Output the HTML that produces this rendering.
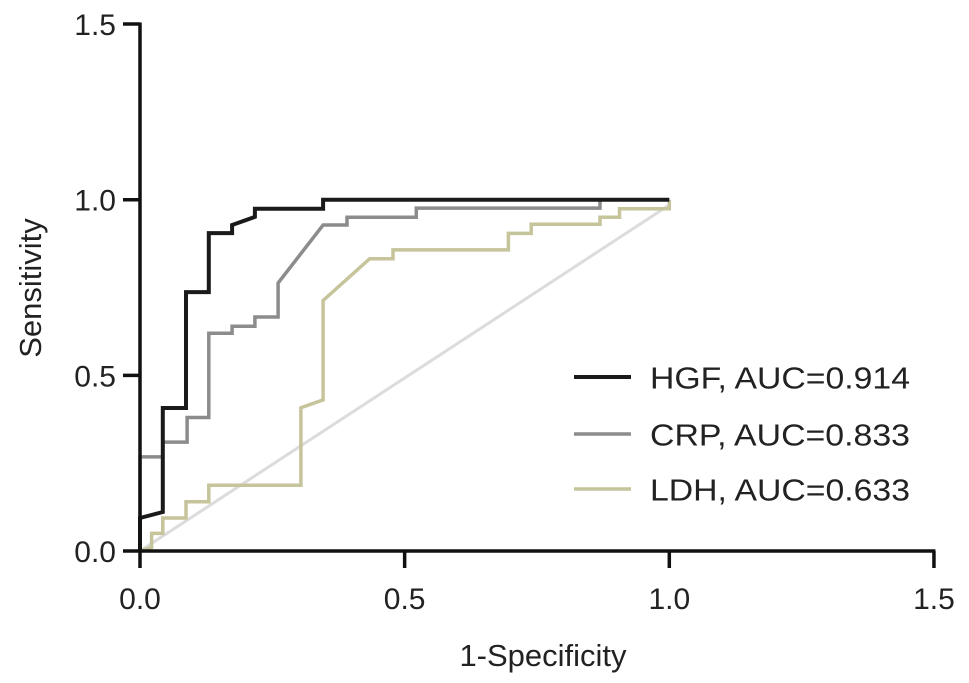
<!DOCTYPE html>
<html><head><meta charset="utf-8"><style>
html,body{margin:0;padding:0;background:#fff;}
svg{display:block;font-family:"Liberation Sans",Arial,sans-serif;}
</style></head><body>
<svg id="chart" width="969" height="683" viewBox="0 0 969 683"></svg>
<script>
const xTicks = [0, 0.5, 1.0, 1.5];
const yTicks = [0, 0.5, 1.0, 1.5];
const tickLabels = ["0.0", "0.5", "1.0", "1.5"];
const seriesNames = ["HGF, AUC=0.914", "CRP, AUC=0.833", "LDH, AUC=0.633"];
const hgfX = [0,0,0.043,0.043,0.087,0.087,0.130,0.130,0.174,0.174,0.217,0.217,0.346,0.346,1];
const hgfY = [0,0.094,0.111,0.407,0.407,0.737,0.737,0.905,0.905,0.928,0.951,0.974,0.974,1.0,1.0];
const crpX = [0,0,0.043,0.043,0.089,0.089,0.130,0.130,0.174,0.174,0.217,0.217,0.261,0.261,0.346,0.391,0.391,0.522,0.522,0.869,0.869];
const crpY = [0,0.268,0.268,0.31,0.31,0.38,0.38,0.62,0.62,0.64,0.64,0.666,0.666,0.763,0.928,0.928,0.95,0.95,0.976,0.976,1.0];
const ldhX = [0,0.022,0.022,0.043,0.043,0.087,0.087,0.130,0.130,0.304,0.304,0.346,0.346,0.434,0.478,0.478,0.696,0.696,0.739,0.739,0.869,0.869,0.906,0.906,1,1];
const ldhY = [0,0.01,0.05,0.05,0.094,0.094,0.14,0.14,0.187,0.187,0.408,0.43,0.713,0.832,0.832,0.857,0.857,0.904,0.904,0.93,0.93,0.95,0.95,0.974,0.974,1.0];
const refX = [0, 1];
const refY = [0, 0.985];

const NS = "http://www.w3.org/2000/svg";
const svg = document.getElementById("chart");
const X0 = 140, XS = 529.3, Y0 = 551, YS = 351.3;
const sx = v => X0 + v * XS;
const sy = v => Y0 - v * YS;
function mk(tag, attrs, parent) {
  const e = document.createElementNS(NS, tag);
  for (const k in attrs) e.setAttribute(k, attrs[k]);
  (parent || svg).appendChild(e);
  return e;
}
function pts(xs, ys) { return xs.map((x, i) => sx(x).toFixed(1) + "," + sy(ys[i]).toFixed(1)).join(" "); }

let ref = mk("polyline", {points: pts(refX, refY), fill: "none", stroke: "#dcdcdc", "stroke-width": 3});



const colors = ["#1a1a1a", "#8c8c8c", "#c5c49a"];
const widths = [4, 3.5, 3.5];
const dataX = [hgfX, crpX, ldhX];
const dataY = [hgfY, crpY, ldhY];
const lineNames = ["hgf-curve", "crp-curve", "ldh-curve"];
for (let s = 2; s >= 0; s--) {
  const l = mk("polyline", {points: pts(dataX[s], dataY[s]), fill: "none", stroke: colors[s], "stroke-width": widths[s], "stroke-linejoin": "miter"});
  
  
}

const ax = mk("g", {stroke: "#111", "stroke-width": 3.5, fill: "none"});


mk("line", {x1: sx(0), y1: sy(0), x2: sx(1.5) + 1.5, y2: sy(0)}, ax);
mk("line", {x1: sx(0), y1: sy(0), x2: sx(0), y2: sy(1.5) - 1.5}, ax);
xTicks.forEach((t, i) => {
  mk("line", {x1: sx(t), y1: sy(0), x2: sx(t), y2: sy(0) + 17}, ax);
  const tx = mk("text", {x: sx(t), y: 609, "text-anchor": "middle", "font-size": 30, fill: "#222"});
  tx.textContent = tickLabels[i];
  
  
});
yTicks.forEach((t, i) => {
  mk("line", {x1: sx(0), y1: sy(t), x2: sx(0) - 17, y2: sy(t)}, ax);
  const tx = mk("text", {x: 116, y: sy(t) + 11, "text-anchor": "end", "font-size": 30, fill: "#222"});
  tx.textContent = tickLabels[i];
  
  
});

const xt = mk("text", {x: 543, y: 666, "text-anchor": "middle", "font-size": 31, fill: "#222"});
xt.textContent = "1-Specificity";


const yt = mk("text", {x: 0, y: 0, "text-anchor": "middle", "font-size": 31, fill: "#222", transform: "translate(41,288) rotate(-90)"});
yt.textContent = "Sensitivity";



const leg = mk("g", {});


const legY = [377, 434, 489];
for (let s = 0; s < 3; s++) {
  const g = mk("g", {}, leg);
  
  
  mk("line", {x1: 574, y1: legY[s], x2: 631, y2: legY[s], stroke: colors[s], "stroke-width": widths[s]}, g);
  const t = mk("text", {x: 650, y: legY[s] + 11.5, "font-size": 31, fill: "#222", textLength: 260, lengthAdjust: "spacingAndGlyphs"}, g);
  t.textContent = seriesNames[s];
}
</script>
</body></html>
